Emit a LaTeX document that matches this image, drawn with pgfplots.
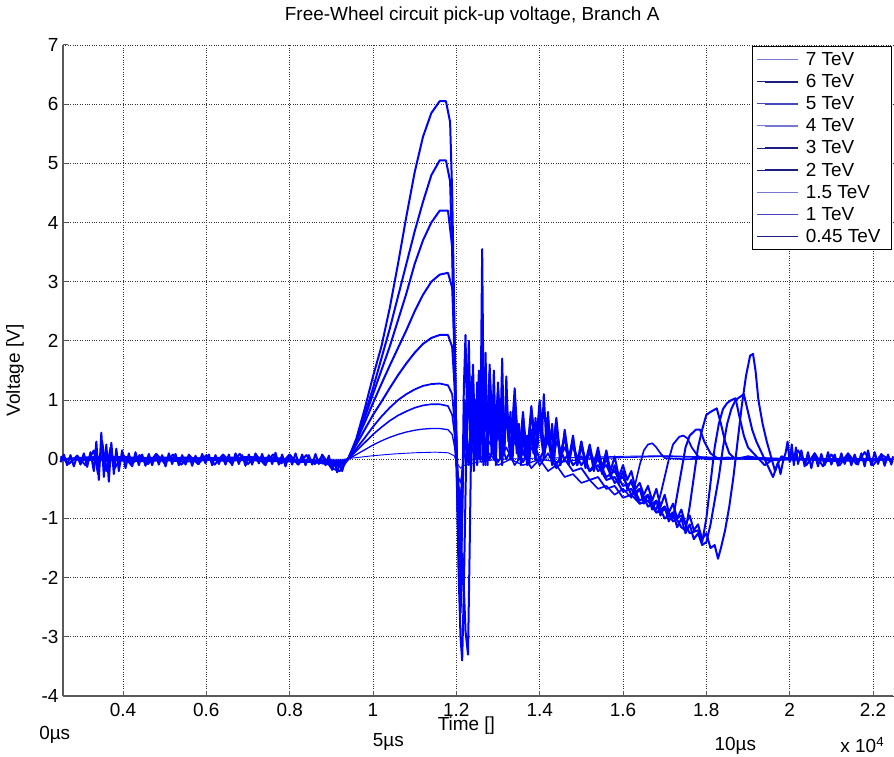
\documentclass[border=0pt]{standalone}
\usepackage{fontspec}
\setmainfont{Liberation Sans}
\usepackage{pgfplots}
\pgfplotsset{compat=1.18}
\newcommand\fs{\fontsize{19}{22}\selectfont}
\definecolor{lA}{RGB}{120,120,210}
\definecolor{lB}{RGB}{30,30,130}
\definecolor{lC}{RGB}{70,70,190}
\begin{document}
\begin{tikzpicture}
\begin{axis}[name=ax, at={(0,0)}, anchor=south west,
  scale only axis, width=830bp, height=651bp,
  xmin=0.256, xmax=2.248, ymin=-4, ymax=7,
  axis x line*=bottom, axis y line*=left,
  axis line style={draw=gray!70!black, line width=1.2bp, -},
  xtick={0.4,0.6,0.8,1,1.2,1.4,1.6,1.8,2,2.2},
  xticklabels={0.4,0.6,0.8,1,1.2,1.4,1.6,1.8,2,2.2},
  ytick={-4,-3,...,7},
  tick align=inside, major tick length=5bp,
  tick style={draw=gray!70!black, line width=1bp},
  grid=major, major grid style={dotted, black!80, line width=0.9bp},
  /pgf/number format/assume math mode=true,
  tick label style={font=\fs},
  xticklabel style={yshift=-4bp},
  yticklabel style={xshift=-1bp},
  clip=false,
  legend style={at={(axis description cs:0.9988,0.9985)}, anchor=north east, draw=black, line width=1bp, font=\fs, row sep=3.5bp, inner sep=4bp, fill=white, nodes={inner xsep=7bp}},
  legend cell align=left,
  legend image code/.code={\path (0bp,0bp) -- (41bp,0bp); \draw[#1, line width=1.5bp] (8bp,0bp) -- (41bp,0bp);},
  every axis plot/.append style={blue, line join=round},
]
% 7 TeV
\addplot[line width=2bp, forget plot] coordinates {
(0.250,-0.05)(0.258,0.08)(0.266,-0.10)(0.274,0.07)(0.282,-0.12)(0.290,0.06)(0.298,-0.09)(0.306,0.10)(0.314,-0.13)(0.322,0.12)
(0.330,-0.20)(0.336,0.30)(0.342,-0.35)(0.348,0.45)(0.354,-0.30)(0.360,0.25)(0.366,-0.38)(0.372,0.28)(0.378,-0.25)(0.384,0.18)
(0.390,-0.20)(0.398,0.15)(0.406,-0.15)(0.414,0.10)(0.422,-0.12)(0.430,0.12)(0.438,-0.10)(0.446,0.08)(0.454,-0.11)(0.462,0.09)
(0.470,-0.10)(0.478,0.08)(0.486,-0.09)(0.494,0.07)(0.502,-0.12)(0.510,0.10)(0.518,-0.08)(0.526,0.09)(0.534,-0.10)(0.542,0.07)
(0.550,-0.09)(0.558,0.08)(0.566,-0.11)(0.574,0.06)(0.582,-0.08)(0.590,0.09)(0.598,-0.07)(0.606,0.08)(0.614,-0.10)(0.622,0.07)
(0.630,-0.08)(0.638,0.06)(0.646,-0.09)(0.654,0.08)(0.662,-0.10)(0.670,0.10)(0.678,-0.08)(0.686,0.07)(0.694,-0.11)(0.702,0.08)
(0.710,-0.09)(0.718,0.10)(0.726,-0.07)(0.734,0.09)(0.742,-0.10)(0.750,0.07)(0.758,-0.08)(0.766,0.11)(0.774,-0.09)(0.782,0.08)
(0.790,-0.12)(0.798,0.07)(0.806,-0.09)(0.814,0.10)(0.822,-0.08)(0.830,0.08)(0.838,-0.10)(0.846,0.07)(0.854,-0.09)(0.862,0.09)
(0.870,-0.08)(0.878,0.08)(0.886,-0.10)(0.894,0.06)(0.902,-0.18)(0.908,-0.05)(0.914,-0.22)(0.920,-0.08)(0.926,-0.20)(0.932,-0.05)
(0.940,0.00)(0.960,0.35)(0.980,0.85)(1.000,1.40)(1.020,1.90)(1.040,2.55)(1.060,3.30)(1.080,4.10)(1.100,4.85)(1.120,5.45)
(1.140,5.85)(1.160,6.05)(1.175,6.05)(1.185,5.70)(1.190,4.50)(1.195,2.50)(1.200,0.30)(1.205,-1.80)(1.210,-3.00)(1.214,-3.40)
(1.218,-2.20)(1.222,-0.60)(1.226,0.90)(1.230,2.00)(1.234,0.60)(1.238,1.40)(1.242,-0.20)(1.246,1.00)(1.250,0.30)(1.254,1.50)
(1.258,0.00)(1.262,1.70)(1.266,0.20)(1.270,1.30)(1.275,-0.10)(1.280,1.00)(1.285,0.10)(1.290,1.50)(1.295,0.20)(1.300,1.10)
(1.305,0.00)(1.310,0.90)(1.315,0.20)(1.320,1.40)(1.325,0.30)(1.330,0.80)(1.335,0.00)(1.340,0.70)(1.345,0.10)(1.350,0.60)
(1.355,-0.10)(1.360,0.50)(1.365,0.00)(1.370,0.40)(1.375,-0.10)(1.380,0.50)(1.385,0.10)(1.390,0.70)(1.395,0.20)(1.400,0.90)
(1.405,0.30)(1.410,1.10)(1.415,0.40)(1.420,0.80)(1.425,0.20)(1.430,0.60)(1.435,0.00)(1.440,0.50)(1.450,0.10)(1.460,0.40)
(1.470,0.00)(1.480,0.30)(1.490,-0.10)(1.500,0.30)(1.510,-0.05)(1.520,0.25)(1.530,-0.10)(1.540,0.20)(1.550,-0.15)(1.560,0.15)
(1.570,-0.20)(1.580,0.05)(1.590,-0.30)(1.600,-0.10)(1.610,-0.35)(1.620,-0.20)(1.630,-0.50)(1.640,-0.40)(1.650,-0.60)(1.660,-0.45)
(1.670,-0.70)(1.680,-0.50)(1.690,-0.80)(1.700,-0.60)(1.710,-0.90)(1.720,-0.75)(1.730,-1.00)(1.740,-0.85)(1.750,-1.10)(1.760,-0.95)
(1.770,-1.20)(1.780,-1.10)(1.790,-1.35)(1.800,-1.25)(1.810,-1.50)(1.820,-1.45)(1.828,-1.68)(1.835,-1.50)(1.845,-1.20)(1.855,-0.80)
(1.865,-0.30)(1.875,0.30)(1.885,0.90)(1.895,1.40)(1.905,1.75)(1.912,1.78)(1.918,1.50)(1.925,1.00)(1.935,0.60)(1.945,0.30)
(1.955,0.05)(1.965,-0.20)(1.972,-0.05)(1.978,-0.25)(1.985,0.00)(1.990,0.10)(1.995,0.30)(2.000,-0.05)(2.005,0.25)(2.010,-0.10)
(2.015,0.20)(2.020,-0.08)(2.028,0.15)(2.036,-0.12)(2.044,0.12)(2.052,-0.15)(2.060,0.10)(2.068,-0.12)(2.076,0.09)(2.084,-0.10)
(2.092,0.12)(2.100,-0.09)(2.108,0.08)(2.116,-0.11)(2.124,0.10)(2.132,-0.08)(2.140,0.09)(2.148,-0.10)(2.156,0.08)(2.164,-0.09)
(2.172,0.10)(2.180,-0.12)(2.188,0.15)(2.196,-0.10)(2.204,0.12)(2.212,-0.08)(2.220,0.09)(2.228,-0.11)(2.236,0.08)(2.244,-0.09)(2.248,0.05)
};
% 6 TeV
\addplot[line width=2bp, forget plot] coordinates {
(0.25,0.05)(0.27,-0.08)(0.29,0.06)(0.31,-0.10)(0.33,0.15)(0.34,-0.25)(0.35,0.30)(0.36,-0.20)(0.37,0.20)(0.38,-0.15)
(0.40,0.08)(0.42,-0.10)(0.44,0.07)(0.46,-0.08)(0.48,0.09)(0.50,-0.07)(0.52,0.08)(0.54,-0.09)(0.56,0.06)(0.58,-0.08)
(0.60,0.07)(0.62,-0.09)(0.64,0.08)(0.66,-0.07)(0.68,0.09)(0.70,-0.08)(0.72,0.07)(0.74,-0.09)(0.76,0.08)(0.78,-0.07)
(0.80,0.08)(0.82,-0.09)(0.84,0.07)(0.86,-0.08)(0.88,0.06)(0.90,-0.15)(0.92,-0.20)(0.935,-0.05)
(0.94,0.00)(0.96,0.30)(0.98,0.75)(1.00,1.20)(1.02,1.70)(1.04,2.20)(1.06,2.75)(1.08,3.30)(1.10,3.85)(1.12,4.35)
(1.14,4.80)(1.16,5.05)(1.175,5.05)(1.185,4.70)(1.19,3.50)(1.195,1.80)(1.20,0.00)(1.205,-1.50)(1.21,-2.60)(1.215,-1.60)
(1.222,-2.90)(1.228,-3.30)(1.232,-1.50)(1.236,0.50)(1.24,1.60)(1.245,0.20)(1.25,1.10)(1.255,0.00)(1.258,0.60)(1.262,3.55)
(1.266,0.40)(1.27,1.20)(1.275,0.00)(1.28,1.60)(1.285,0.10)(1.29,0.90)(1.295,-0.10)(1.30,1.30)(1.305,0.20)(1.31,1.70)
(1.315,0.10)(1.32,0.80)(1.33,0.00)(1.34,1.00)(1.35,0.10)(1.36,0.60)(1.37,0.00)(1.38,0.80)(1.39,0.10)(1.40,1.00)
(1.41,0.20)(1.42,0.70)(1.43,0.00)(1.44,0.60)(1.45,-0.10)(1.46,0.50)(1.47,0.00)(1.48,0.40)(1.49,-0.10)(1.50,0.30)
(1.51,-0.15)(1.52,0.20)(1.53,-0.20)(1.54,0.10)(1.55,-0.25)(1.56,0.05)(1.57,-0.30)(1.58,-0.10)(1.59,-0.40)(1.60,-0.20)
(1.61,-0.50)(1.62,-0.35)(1.63,-0.60)(1.64,-0.50)(1.65,-0.75)(1.66,-0.60)(1.67,-0.85)(1.68,-0.70)(1.69,-0.95)(1.70,-0.80)
(1.71,-1.05)(1.72,-0.90)(1.73,-1.15)(1.74,-1.00)(1.75,-1.25)(1.76,-1.10)(1.77,-1.35)(1.78,-1.25)(1.79,-1.45)(1.80,-1.40)
(1.81,-1.10)(1.82,-0.70)(1.83,-0.30)(1.84,0.20)(1.85,0.60)(1.86,0.85)(1.87,1.00)(1.88,1.05)(1.89,1.10)(1.90,0.80)
(1.91,0.50)(1.92,0.30)(1.93,0.15)(1.94,0.00)(1.95,-0.15)(1.96,-0.30)(1.97,-0.10)(1.98,0.05)(2.00,0.00)(2.02,0.15)
(2.04,-0.10)(2.06,0.10)(2.08,-0.12)(2.10,0.08)(2.12,-0.10)(2.14,0.10)(2.16,-0.08)(2.18,0.12)(2.20,-0.10)(2.22,0.08)(2.248,-0.05)
};
% 5 TeV
\addplot[line width=2bp, forget plot] coordinates {
(0.25,0.00)(0.35,0.05)(0.45,-0.03)(0.55,0.03)(0.65,-0.03)(0.75,0.03)(0.85,-0.03)(0.92,-0.12)
(0.94,0.00)(0.96,0.30)(0.98,0.70)(1.00,1.10)(1.02,1.50)(1.04,1.90)(1.06,2.35)(1.08,2.80)(1.10,3.30)(1.12,3.70)
(1.14,4.00)(1.16,4.20)(1.18,4.20)(1.19,3.60)(1.196,2.00)(1.20,0.30)(1.205,-1.20)(1.21,-2.50)(1.214,-1.00)(1.218,1.20)
(1.222,2.10)(1.226,0.60)(1.23,1.40)(1.235,-0.20)(1.24,0.90)(1.245,0.00)(1.25,1.30)(1.255,0.30)(1.26,1.00)(1.265,-0.10)
(1.27,1.80)(1.275,0.30)(1.28,0.90)(1.29,0.00)(1.30,1.20)(1.31,0.20)(1.32,0.90)(1.33,0.10)(1.34,1.20)(1.35,0.00)
(1.36,0.70)(1.37,0.10)(1.38,0.90)(1.39,0.20)(1.40,0.60)(1.41,0.00)(1.42,0.50)(1.43,0.10)(1.44,0.70)(1.45,0.00)
(1.46,0.40)(1.47,-0.10)(1.48,0.30)(1.49,-0.10)(1.50,0.20)(1.52,-0.20)(1.54,0.00)(1.56,-0.30)(1.58,-0.20)(1.60,-0.45)
(1.62,-0.40)(1.64,-0.70)(1.66,-0.60)(1.68,-0.90)(1.70,-0.80)(1.72,-1.05)(1.74,-0.95)(1.76,-1.25)(1.78,-1.20)(1.79,-1.40)
(1.80,-1.00)(1.81,-0.40)(1.82,0.20)(1.83,0.60)(1.84,0.85)(1.85,0.95)(1.86,1.00)(1.87,1.03)(1.88,0.70)(1.89,0.40)
(1.90,0.20)(1.92,0.05)(1.94,-0.10)(1.96,0.00)(2.00,0.02)(2.10,-0.03)(2.248,0.00)
};
% 4 TeV
\addplot[line width=2bp, forget plot] coordinates {
(0.25,0.00)(0.40,0.04)(0.55,-0.04)(0.70,0.04)(0.85,-0.04)(0.92,-0.10)
(0.94,0.00)(0.96,0.30)(0.98,0.62)(1.00,0.95)(1.02,1.27)(1.04,1.58)(1.06,1.88)(1.08,2.18)(1.10,2.50)(1.12,2.78)
(1.14,3.00)(1.16,3.12)(1.18,3.15)(1.19,2.90)(1.196,1.80)(1.20,0.40)(1.205,-0.80)(1.21,-2.00)(1.215,-0.60)(1.22,1.00)
(1.225,0.10)(1.23,1.70)(1.235,0.20)(1.24,0.80)(1.25,-0.10)(1.26,1.10)(1.27,0.00)(1.28,1.50)(1.29,0.20)(1.30,0.70)
(1.31,-0.10)(1.32,1.00)(1.33,0.20)(1.34,0.60)(1.35,0.00)(1.36,0.80)(1.37,-0.10)(1.38,0.50)(1.39,0.00)(1.40,0.70)
(1.41,0.10)(1.42,0.40)(1.43,-0.10)(1.44,0.30)(1.46,0.00)(1.48,0.20)(1.50,-0.10)(1.52,0.10)(1.54,-0.20)(1.56,-0.10)
(1.58,-0.40)(1.60,-0.30)(1.62,-0.60)(1.64,-0.50)(1.66,-0.80)(1.68,-0.70)(1.70,-1.00)(1.72,-0.90)(1.74,-1.15)(1.75,-1.20)
(1.76,-0.80)(1.77,-0.30)(1.78,0.20)(1.79,0.50)(1.80,0.75)(1.81,0.80)(1.825,0.86)(1.835,0.60)(1.845,0.30)(1.855,0.10)
(1.87,0.00)(1.90,0.05)(1.95,-0.02)(2.00,0.00)(2.248,0.00)
};
% 3 TeV
\addplot[line width=2bp, forget plot] coordinates {
(0.25,0.00)(0.45,-0.03)(0.65,0.03)(0.85,-0.03)(0.92,-0.08)
(0.94,0.00)(0.96,0.25)(0.98,0.50)(1.00,0.75)(1.02,0.97)(1.04,1.20)(1.06,1.42)(1.08,1.62)(1.10,1.80)(1.12,1.95)
(1.14,2.05)(1.16,2.10)(1.18,2.10)(1.19,1.90)(1.196,1.20)(1.20,0.30)(1.205,-0.60)(1.21,-1.50)(1.215,-0.30)(1.22,0.80)
(1.23,0.00)(1.24,1.20)(1.25,0.10)(1.26,0.70)(1.27,-0.10)(1.28,0.90)(1.29,0.00)(1.30,0.60)(1.31,0.10)(1.32,0.80)
(1.33,0.00)(1.34,0.50)(1.36,0.10)(1.38,0.40)(1.40,0.00)(1.42,0.30)(1.44,-0.10)(1.46,0.20)(1.48,-0.10)(1.50,0.05)
(1.52,-0.20)(1.54,-0.10)(1.56,-0.35)(1.58,-0.30)(1.60,-0.55)(1.62,-0.50)(1.64,-0.75)(1.66,-0.70)(1.68,-0.90)(1.70,-0.85)
(1.72,-1.00)(1.73,-0.60)(1.74,-0.20)(1.75,0.20)(1.76,0.40)(1.775,0.50)(1.785,0.50)(1.795,0.30)(1.81,0.10)(1.83,0.00)
(1.90,0.03)(2.00,0.00)(2.248,0.00)
};
% 2 TeV
\addplot[line width=1.8bp, forget plot] coordinates {
(0.25,0.00)(0.50,0.03)(0.75,-0.03)(0.92,-0.06)
(0.94,0.00)(0.96,0.18)(0.98,0.36)(1.00,0.55)(1.02,0.72)(1.04,0.87)(1.06,1.00)(1.08,1.10)(1.10,1.18)(1.12,1.24)
(1.14,1.27)(1.16,1.28)(1.18,1.25)(1.19,1.10)(1.196,0.60)(1.20,0.00)(1.205,-0.50)(1.21,-1.00)(1.215,-0.20)(1.22,0.50)
(1.23,0.00)(1.24,0.70)(1.25,0.00)(1.26,0.50)(1.28,0.00)(1.30,0.40)(1.32,0.00)(1.34,0.30)(1.36,-0.05)(1.38,0.20)
(1.40,-0.10)(1.42,0.10)(1.44,-0.15)(1.46,0.00)(1.48,-0.20)(1.50,-0.15)(1.52,-0.35)(1.54,-0.30)(1.56,-0.50)(1.58,-0.45)
(1.60,-0.65)(1.62,-0.60)(1.64,-0.75)(1.66,-0.70)(1.68,-0.85)(1.69,-0.60)(1.70,-0.30)(1.71,0.00)(1.72,0.25)(1.735,0.38)
(1.745,0.40)(1.755,0.35)(1.765,0.20)(1.78,0.05)(1.80,0.00)(1.90,0.02)(2.00,0.00)(2.248,0.00)
};
% 1.5 TeV
\addplot[line width=1.6bp, forget plot] coordinates {
(0.25,0.00)(0.60,0.02)(0.92,-0.04)
(0.94,0.00)(0.96,0.14)(0.98,0.28)(1.00,0.42)(1.02,0.54)(1.04,0.65)(1.06,0.74)(1.08,0.81)(1.10,0.87)(1.12,0.91)
(1.14,0.93)(1.16,0.93)(1.18,0.90)(1.19,0.75)(1.196,0.40)(1.20,-0.10)(1.205,-0.40)(1.21,-0.70)(1.215,-0.10)(1.22,0.30)
(1.23,-0.10)(1.24,0.40)(1.26,0.00)(1.28,0.30)(1.30,-0.05)(1.32,0.20)(1.34,-0.10)(1.36,0.10)(1.38,-0.15)(1.40,0.00)
(1.42,-0.20)(1.44,-0.10)(1.46,-0.30)(1.48,-0.25)(1.50,-0.40)(1.52,-0.35)(1.54,-0.50)(1.56,-0.45)(1.58,-0.60)(1.60,-0.50)
(1.62,-0.65)(1.63,-0.40)(1.64,-0.10)(1.65,0.15)(1.66,0.25)(1.67,0.27)(1.68,0.20)(1.69,0.10)(1.70,0.02)(1.75,0.00)
(1.85,0.03)(2.00,0.00)(2.248,0.00)
};
% 1 TeV
\addplot[line width=1.3bp, forget plot] coordinates {
(0.25,0.00)(0.92,-0.02)
(0.94,0.00)(0.96,0.08)(0.98,0.16)(1.00,0.24)(1.02,0.31)(1.04,0.37)(1.06,0.42)(1.08,0.46)(1.10,0.49)(1.12,0.51)
(1.14,0.52)(1.16,0.52)(1.18,0.50)(1.19,0.42)(1.196,0.20)(1.20,-0.10)(1.205,-0.30)(1.21,-0.40)(1.22,0.10)(1.23,-0.10)
(1.24,0.20)(1.26,-0.05)(1.28,0.10)(1.30,-0.10)(1.33,0.00)(1.36,-0.10)(1.40,0.00)(1.45,-0.05)(1.50,0.00)(1.60,0.03)
(1.70,0.05)(1.80,0.03)(1.90,0.00)(2.00,0.00)(2.248,0.00)
};
% 0.45 TeV
\addplot[line width=0.9bp, forget plot] coordinates {
(0.25,0.00)(0.93,0.00)(0.95,0.02)(1.00,0.06)(1.05,0.09)(1.10,0.11)(1.15,0.12)(1.18,0.11)(1.195,0.06)(1.20,-0.05)
(1.21,-0.15)(1.22,-0.10)(1.25,-0.05)(1.30,0.00)(1.40,0.02)(1.50,0.03)(1.60,0.05)(1.70,0.06)(1.80,0.04)(1.90,0.00)
(2.00,0.00)(2.248,0.00)
};
\addlegendimage{lA}\addlegendentry{7 TeV}
\addlegendimage{lB}\addlegendentry{6 TeV}
\addlegendimage{lC}\addlegendentry{5 TeV}
\addlegendimage{lA}\addlegendentry{4 TeV}
\addlegendimage{lB}\addlegendentry{3 TeV}
\addlegendimage{lB}\addlegendentry{2 TeV}
\addlegendimage{lA}\addlegendentry{1.5 TeV}
\addlegendimage{lC}\addlegendentry{1 TeV}
\addlegendimage{lB}\addlegendentry{0.45 TeV}
\node[font=\fs] at (axis description cs:0.493,1.045) {Free-Wheel circuit pick-up voltage, Branch A};
\node[font=\fs, rotate=90] at (axis description cs:-0.058,0.5) {Voltage [V]};
\node[font=\fs] at (axis description cs:0.486,-0.045) {Time []};
\node[font=\fs] at (axis description cs:-0.01,-0.06) {0µs};
\node[font=\fs] at (axis description cs:0.392,-0.071) {5µs};
\node[font=\fs] at (axis description cs:0.81,-0.077) {10µs};
\node[font=\fs] at (axis description cs:0.963,-0.075) {x 10\textsuperscript{4}};
\end{axis}
\pgfresetboundingbox
\path ([xshift=-63bp,yshift=-61bp]ax.south west) rectangle ([xshift=1bp,yshift=45bp]ax.north east);
\end{tikzpicture}
\end{document}
